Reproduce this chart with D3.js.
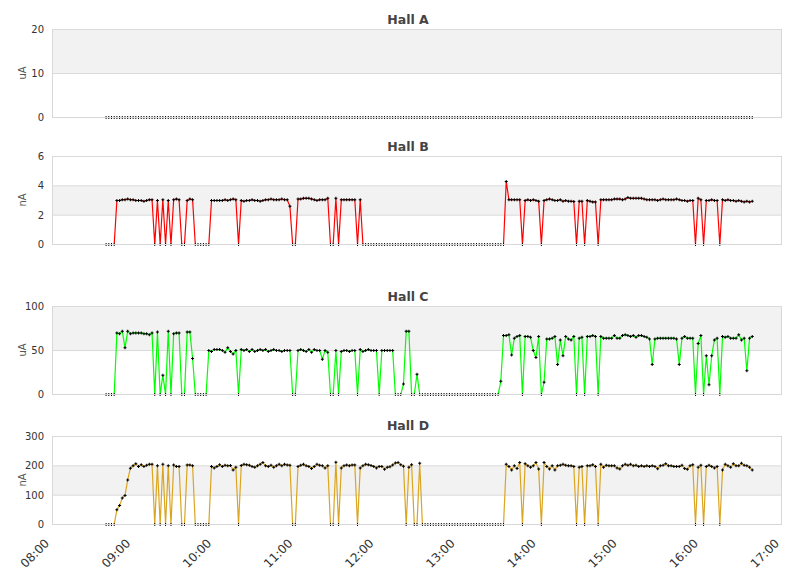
<!DOCTYPE html>
<html>
<head>
<meta charset="utf-8">
<script src="https://cdn.jsdelivr.net/npm/d3@7"></script>
<style>
body{margin:0;background:#fff;}
text{font-family:"DejaVu Sans",Verdana,sans-serif;}
</style>
</head>
<body>
<svg id="chart"></svg>
<script>
// panel names, units and y ticks
var hallNames = ["Hall A","Hall B","Hall C","Hall D"];
var hallUnits = ["uA","nA","uA","nA"];
var hallTicks = [[0,10,20],[0,2,4,6],[0,50,100],[0,100,200,300]];
var hallColors = ["#4572a7","#ff0000","#00ff00","#daa520"];

// x axis tick labels
var timeTicks = ["08:00","09:00","10:00","11:00","12:00","13:00","14:00","15:00","16:00","17:00"];

// samples every 2 minutes from 08:40
var sampleStart = "08:40";
var sampleStep = 2;

var hallA = [
0,0,0,0,0,0,0,0,0,0,0,0,0,0,0,0,0,0,0,0,
0,0,0,0,0,0,0,0,0,0,0,0,0,0,0,0,0,0,0,0,
0,0,0,0,0,0,0,0,0,0,0,0,0,0,0,0,0,0,0,0,
0,0,0,0,0,0,0,0,0,0,0,0,0,0,0,0,0,0,0,0,
0,0,0,0,0,0,0,0,0,0,0,0,0,0,0,0,0,0,0,0,
0,0,0,0,0,0,0,0,0,0,0,0,0,0,0,0,0,0,0,0,
0,0,0,0,0,0,0,0,0,0,0,0,0,0,0,0,0,0,0,0,
0,0,0,0,0,0,0,0,0,0,0,0,0,0,0,0,0,0,0,0,
0,0,0,0,0,0,0,0,0,0,0,0,0,0,0,0,0,0,0,0,
0,0,0,0,0,0,0,0,0,0,0,0,0,0,0,0,0,0,0,0,
0,0,0,0,0,0,0,0,0,0,0,0,0,0,0,0,0,0,0,0,
0,0,0,0,0,0,0,0,0,0,0,0,0,0,0,0,0,0,0,0
];

var hallB = [
0,0,0,0,3.0,3.0,3.05,3.05,3.1,3.05,3.05,3.0,3.0,3.0,2.95,3.0,3.05,3.05,
0,3.0,0,3.05,0,3.0,0,3.05,3.1,3.05,0,0,3.0,3.1,3.05,
0,0,0,0,0,0,
3.0,3.0,3.0,3.0,3.0,3.05,3.0,3.05,3.1,3.05,
0,
3.0,2.95,3.0,3.0,3.05,3.0,3.0,2.95,3.0,3.05,3.05,3.1,3.05,3.05,3.05,3.1,3.05,3.05,
2.6,0,0,
3.1,3.1,3.15,3.15,3.15,3.1,3.05,3.0,3.05,3.05,3.05,3.15,
0,0,3.15,0,
3.05,3.05,3.05,3.05,3.05,3.05,0,3.05,
0,0,0,0,0,0,0,0,0,0,
0,0,0,0,0,0,0,0,0,0,
0,0,0,0,0,0,0,0,0,0,
0,0,0,0,0,0,0,0,0,0,
0,0,0,0,0,0,0,0,0,0,
0,0,0,
4.3,3.05,3.05,3.05,3.05,3.05,0,
3.0,3.05,3.0,3.05,3.0,2.95,0,
3.0,3.05,3.1,3.05,3.0,3.0,3.05,2.95,3.0,2.95,2.95,2.93,0,
2.95,2.95,0,
3.0,2.95,2.9,2.9,0,
3.05,3.05,3.05,3.05,3.05,3.1,3.1,3.1,3.05,3.1,3.2,3.15,3.15,3.15,3.15,3.15,3.1,
3.05,3.05,3.05,3.05,3.0,3.05,3.1,3.05,3.05,3.05,3.05,3.1,3.05,3.0,3.0,2.95,3.0,3.0,
0,3.15,3.05,0,
3.0,3.0,3.05,3.0,3.0,0,
3.05,3.0,3.05,3.0,3.0,2.95,3.0,2.95,2.9,2.95,2.9,2.95
];

var hallC = [
0,0,0,0,70,69,72,53,72,69,70,70,70,70,69,69,68,70,
0,71,0,22,0,72,0,69,70,70,0,0,71,71,41,
0,0,0,0,0,
50,
49,51,51,51,50,48,53,49,46,50,
0,
51,50,51,49,51,49,50,51,50,51,49,50,51,50,50,49,50,50,50,
0,0,
50,51,50,49,51,48,51,50,50,40,50,48,
0,0,50,0,
49,50,50,49,50,50,
0,51,
49,50,51,50,50,
50,0,
50,50,50,50,50,
0,0,0,
12,72,72,0,0,23,
0,0,0,0,0,0,0,0,0,0,
0,0,0,0,0,0,0,0,0,0,
0,0,0,0,0,0,0,0,0,0,
15,
67,67,68,45,64,66,67,
0,
66,66,65,50,42,66,
0,
14,63,63,64,66,34,62,44,66,63,62,66,
0,64,65,0,
66,66,67,66,0,
66,64,64,64,64,67,64,64,67,68,67,66,67,65,67,67,66,65,63,34,
63,64,64,64,64,64,64,64,63,
34,64,66,64,64,64,
0,58,67,0,
44,11,44,62,64,0,
66,65,66,64,64,64,68,62,64,27,64,66
];

var hallD = [
0,0,0,0,50,65,90,99,152,192,200,207,198,204,198,202,205,205,
0,200,0,205,0,200,0,203,198,198,0,0,203,203,200,
0,0,0,0,0,0,
198,193,198,204,198,202,200,201,186,195,
0,
201,205,204,202,198,195,200,205,211,200,198,202,195,200,205,200,205,203,202,
0,0,
198,202,205,200,198,191,198,205,202,200,193,200,
0,0,212,0,
193,200,203,200,203,203,
0,193,
200,205,204,201,198,193,198,198,188,195,197,203,210,211,204,199,
0,195,204,0,0,209,
0,0,0,0,0,0,0,0,0,0,
0,0,0,0,0,0,0,0,0,0,
0,0,0,0,0,0,0,0,0,0,
0,
205,198,186,200,191,211,
0,
207,200,195,200,211,189,
0,
211,198,189,200,186,200,202,205,202,200,200,198,
0,195,198,0,
200,200,204,198,0,
205,195,202,200,200,200,193,189,200,205,202,205,200,202,198,200,198,200,
198,200,198,190,200,202,207,200,200,198,198,198,202,191,188,200,204,
0,195,202,0,
198,202,198,193,198,0,
186,205,200,195,207,200,200,209,202,200,195,186
];

var hallSeries = [hallA,hallB,hallC,hallD];

//where each panel sits on the page
var panels = [
    {top:29, bottom:117, titleY:24},
    {top:156, bottom:244, titleY:151},
    {top:306, bottom:394, titleY:301},
    {top:436, bottom:524, titleY:430}
];
var plotLeft = 52, plotRight = 782;

var parseTime = d3.timeParse("%H:%M");

var svg = d3.select("#chart")
    .attr("width",811)
    .attr("height",578);

var xScale = d3.scaleTime()
    .domain([parseTime(timeTicks[0]),parseTime(timeTicks[timeTicks.length-1])])
    .range([plotLeft,plotRight]);

var t0 = parseTime(sampleStart);
var sampleTime = function(i)
{
    return d3.timeMinute.offset(t0,i*sampleStep);
}

var drawPanel = function(k)
{
    var p = panels[k];
    var ticks = hallTicks[k];
    var values = hallSeries[k];

    var yScale = d3.scaleLinear()
        .domain([0,ticks[ticks.length-1]])
        .range([p.bottom+0.5,p.top+0.5]);

    var g = svg.append("g").classed("panel",true);

    //alternate bands
    for(var j=0;j<ticks.length-1;j++)
    {
        if(j%2==1)
        {
            g.append("rect")
                .attr("x",plotLeft)
                .attr("y",yScale(ticks[j+1]))
                .attr("width",plotRight-plotLeft)
                .attr("height",yScale(ticks[j])-yScale(ticks[j+1]))
                .attr("fill","#f2f2f2");
        }
    }

    //grid lines
    g.selectAll(".grid")
        .data(ticks.slice(1))
        .enter()
        .append("line")
        .attr("x1",plotLeft)
        .attr("x2",plotRight)
        .attr("y1",function(t){return yScale(t);})
        .attr("y2",function(t){return yScale(t);})
        .attr("stroke","#dadada");

    //tick labels
    g.selectAll(".ylab")
        .data(ticks)
        .enter()
        .append("text")
        .attr("x",plotLeft-8)
        .attr("y",function(t){return yScale(t);})
        .attr("dy","0.35em")
        .attr("text-anchor","end")
        .attr("font-size",10)
        .attr("fill","#333")
        .text(function(t){return t;});

    g.append("text")
        .attr("transform","translate(26,"+((p.top+p.bottom)/2)+") rotate(-90)")
        .attr("text-anchor","middle")
        .attr("font-size",10)
        .attr("fill","#555")
        .text(hallUnits[k]);

    g.append("text")
        .attr("x",408)
        .attr("y",p.titleY)
        .attr("text-anchor","middle")
        .attr("font-size",12.5)
        .attr("font-weight","bold")
        .attr("fill","#444")
        .text(hallNames[k]);

    //clip so the line hides along zero
    var clipId = "clip"+k;
    g.append("clipPath")
        .attr("id",clipId)
        .append("rect")
        .attr("x",plotLeft)
        .attr("y",p.top)
        .attr("width",plotRight-plotLeft)
        .attr("height",p.bottom-0.2-p.top);

    var line = d3.line()
        .x(function(v,i){return xScale(sampleTime(i));})
        .y(function(v){return yScale(v);});

    g.append("path")
        .datum(values)
        .attr("d",line)
        .attr("fill","none")
        .attr("stroke",hallColors[k])
        .attr("stroke-width",1.2)
        .attr("clip-path","url(#"+clipId+")");

    var marker = d3.symbol().type(d3.symbolCross).size(5);
    g.selectAll(".pt")
        .data(values)
        .enter()
        .append("path")
        .attr("d",marker)
        .attr("transform",function(v,i)
        {
            return "translate("+xScale(sampleTime(i))+","+yScale(v)+")";
        })
        .attr("fill","#000");

    //frame: baseline and sides drawn last
    g.append("line")
        .attr("x1",plotLeft)
        .attr("x2",plotRight)
        .attr("y1",yScale(0))
        .attr("y2",yScale(0))
        .attr("stroke","#d8d8d8");
    g.append("line")
        .attr("x1",plotLeft+0.5)
        .attr("x2",plotLeft+0.5)
        .attr("y1",p.top+0.5)
        .attr("y2",p.bottom+0.5)
        .attr("stroke","#d8d8d8");
    g.append("line")
        .attr("x1",plotRight-0.5)
        .attr("x2",plotRight-0.5)
        .attr("y1",p.top+0.5)
        .attr("y2",p.bottom+0.5)
        .attr("stroke","#d8d8d8");
}

for(var k=0;k<hallSeries.length;k++)
{
    drawPanel(k);
}

//time labels under the last panel
svg.selectAll(".xlab")
    .data(timeTicks)
    .enter()
    .append("text")
    .attr("transform",function(t)
    {
        return "translate("+(xScale(parseTime(t))-2)+",544) rotate(-45)";
    })
    .attr("text-anchor","end")
    .attr("font-size",12)
    .attr("fill","#333")
    .text(function(t){return t;});
</script>
</body>
</html>
